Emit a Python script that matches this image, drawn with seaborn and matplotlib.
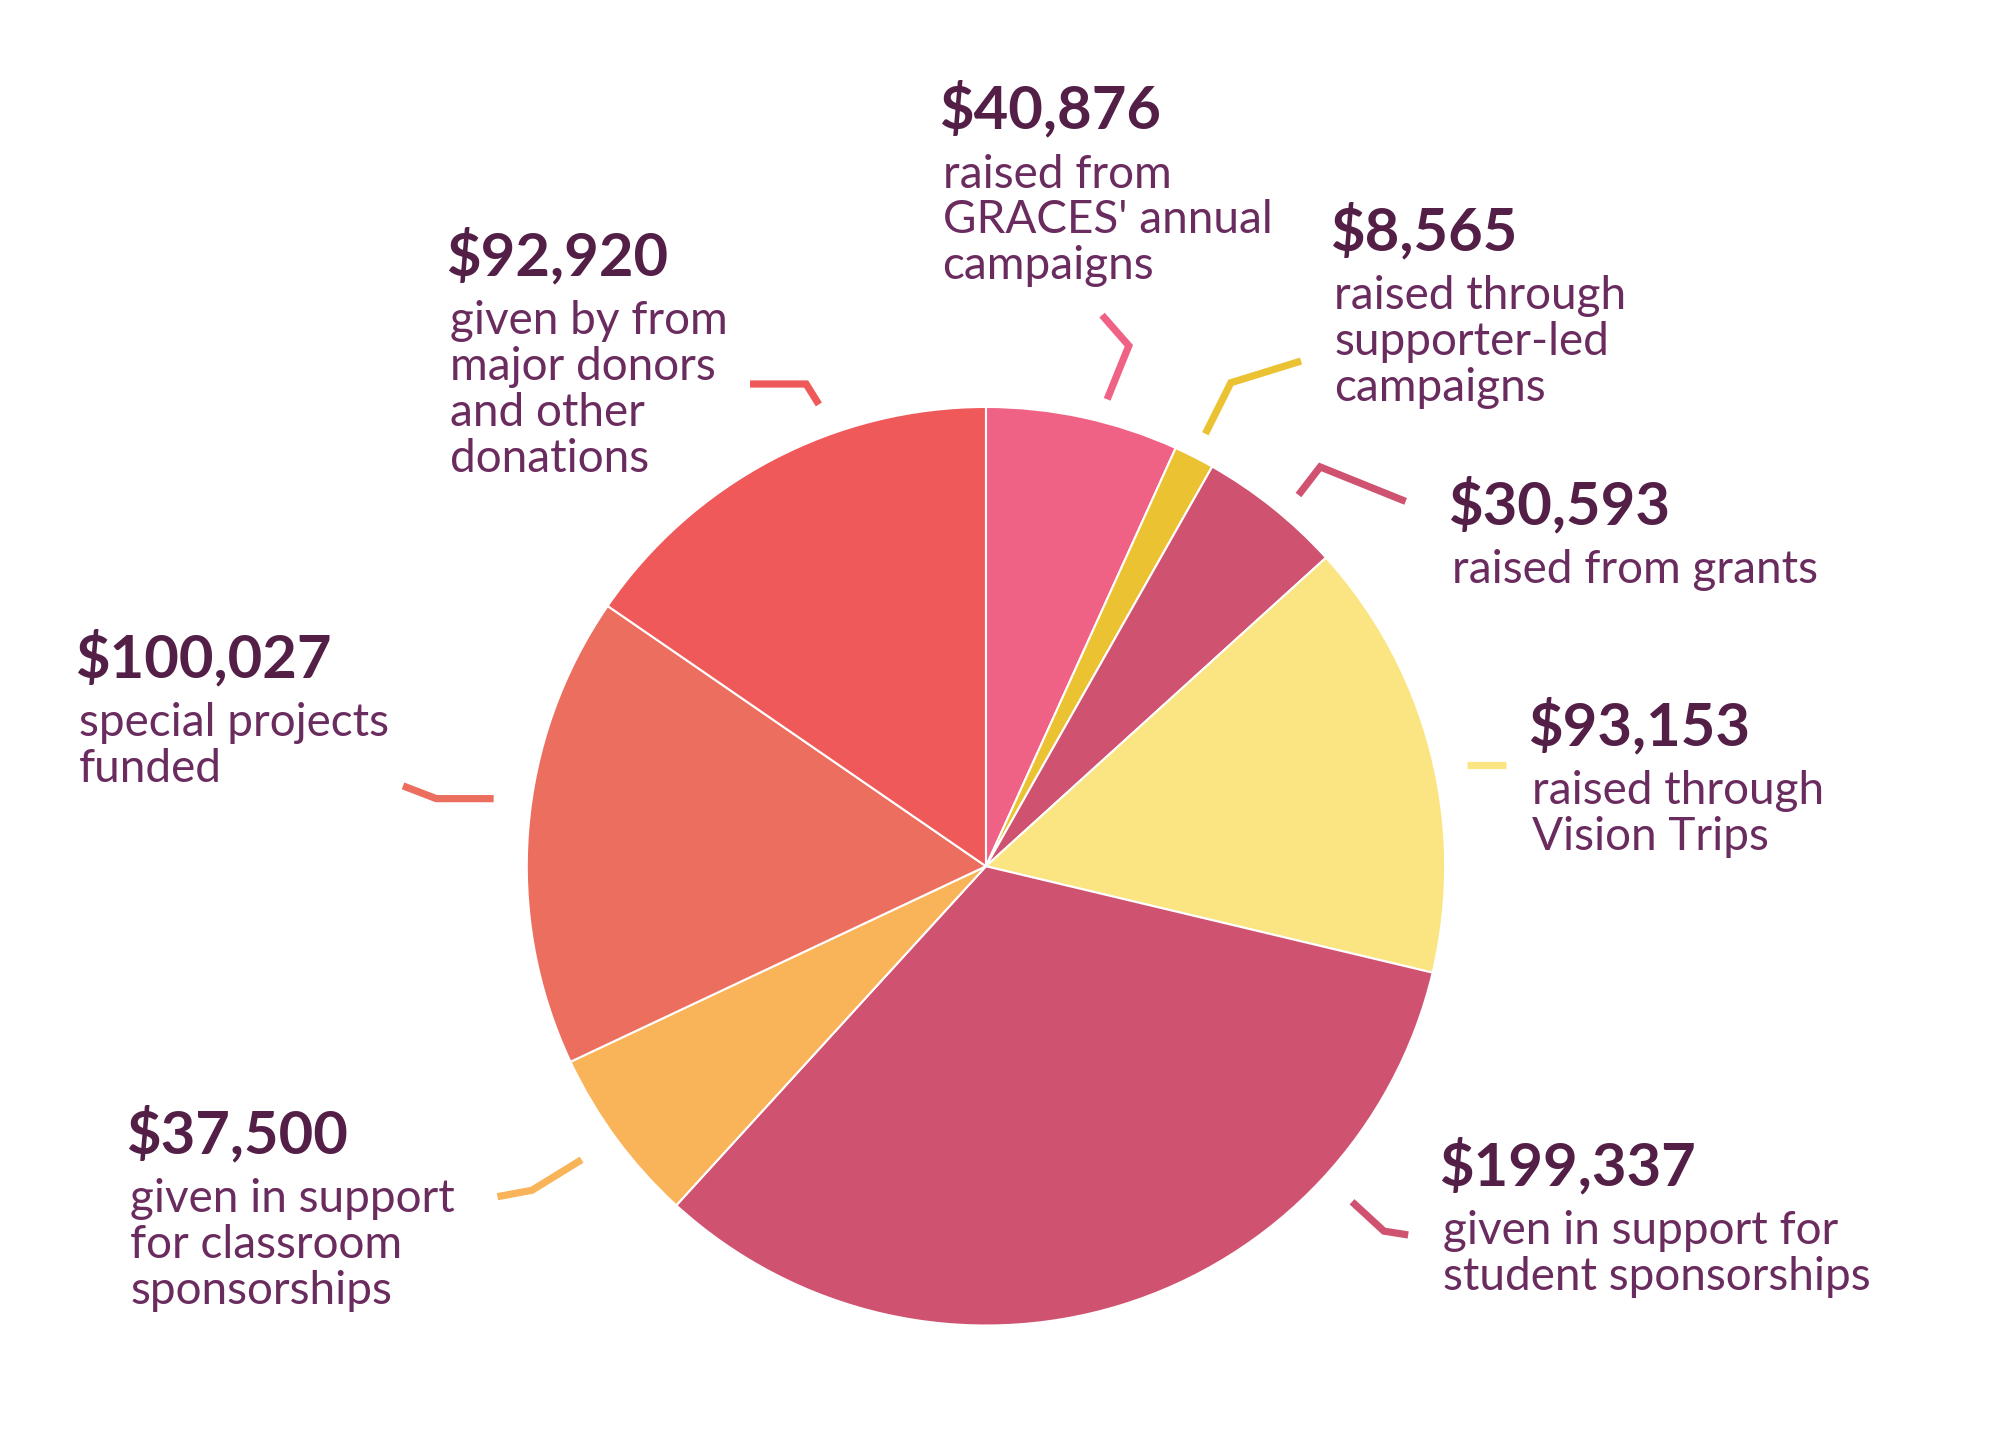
import matplotlib.pyplot as plt
import seaborn as sns

# data
amounts = [40876, 8565, 30593, 93153, 199337, 37500, 100027, 92920]
amount_labels = ["$40,876", "$8,565", "$30,593", "$93,153",
                 "$199,337", "$37,500", "$100,027", "$92,920"]
descriptions = [
    ["raised from", "GRACES' annual", "campaigns"],
    ["raised through", "supporter-led", "campaigns"],
    ["raised from grants"],
    ["raised through", "Vision Trips"],
    ["given in support for", "student sponsorships"],
    ["given in support", "for classroom", "sponsorships"],
    ["special projects", "funded"],
    ["given by from", "major donors", "and other", "donations"],
]
slice_colors = ["#F06285", "#EBC232", "#CF5370", "#FAE582",
                "#CF5370", "#F9B459", "#EB6E5E", "#F0595A"]

# layout (in 1568x1135 canvas units, y measured from top)
W, H = 1568, 1135
pie_center = (773, 679)
pie_radius = 360
# left x, baseline of amount line
text_pos = [(738, 101), (1045, 196), (1137, 411), (1200, 584),
            (1130, 929), (101, 904), (61, 531), (352, 216)]
leaders = [
    [(868, 313), (885, 271), (864, 247)],
    [(945, 340), (965, 300), (1020, 283)],
    [(1018, 388), (1035, 366), (1102, 393)],
    [(1150, 600), (1181, 600)],
    [(1060, 942), (1085, 965), (1104, 968)],
    [(456, 909), (417, 933), (390, 938)],
    [(387, 626), (342, 626), (316, 616)],
    [(642, 317), (632, 301), (588, 301)],
]
label_offsets = (46, 36)   # amount->first line, line spacing

num_color = "#531F47"
txt_color = "#6A2B5E"

sns.set_theme(style="white")
plt.rcParams['font.family'] = ['Lato', 'DejaVu Sans']

fig = plt.figure(figsize=(20, 14.48), dpi=100)
ax = fig.add_axes([0, 0, 1, 1])

ax.pie(amounts, colors=slice_colors, startangle=90, counterclock=False,
       center=(pie_center[0], H - pie_center[1]), radius=pie_radius,
       wedgeprops=dict(edgecolor="white", linewidth=1.5))

for pts, col in zip(leaders, slice_colors):
    xs = [p[0] for p in pts]
    ys = [H - p[1] for p in pts]
    ax.plot(xs, ys, color=col, lw=5.2, solid_capstyle="butt",
            solid_joinstyle="miter")

for (x, yb), amt, desc in zip(text_pos, amount_labels, descriptions):
    ax.text(x - 2, H - yb, amt, fontsize=43, fontweight="bold", color=num_color,
            ha="left", va="baseline")
    for i, line in enumerate(desc):
        y = yb + label_offsets[0] + i * label_offsets[1]
        ax.text(x + 1, H - y, line, fontsize=33, color=txt_color,
                ha="left", va="baseline")

ax.set_xlim(0, W)
ax.set_ylim(0, H)
ax.set_aspect("auto")
ax.axis("off")

fig.savefig("out.png", dpi=100, facecolor="white")
